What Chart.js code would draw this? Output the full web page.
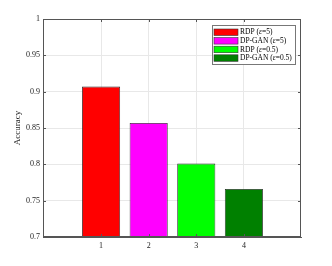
<!DOCTYPE html>
<html>
<head>
<meta charset="utf-8">
<script src="https://cdn.jsdelivr.net/npm/chart.js@4"></script>
<style>
  html, body { margin: 0; padding: 0; background: #fff; }
  #wrap { width: 332px; height: 266px; }
</style>
</head>
<body>
<div id="wrap"><canvas id="accChart"></canvas></div>
<script>
// Accuracy per method
const categories = [1, 2, 3, 4];
const accuracy = [0.907, 0.857, 0.801, 0.766];
const methodNames = ['RDP', 'DP-GAN', 'RDP', 'DP-GAN'];
const epsilons = ['5', '5', '0.5', '0.5'];
const barColors = ['#ff0000', '#ff00ff', '#00ff00', '#008000'];
const yTicks = [0.7, 0.75, 0.8, 0.85, 0.9, 0.95, 1];
const xTicks = [1, 2, 3, 4];

const serif = '"Liberation Serif", "DejaVu Serif", serif';
const axisColor = '#555';

// box around the axes, inward tick marks and the legend (MATLAB look)
const matlabFrame = {
    id: 'matlabFrame',
    afterDraw(chart) {
        const ctx = chart.ctx;
        const a = chart.chartArea;
        const xs = chart.scales.x, ys = chart.scales.y;
        ctx.save();
        ctx.strokeStyle = axisColor;
        ctx.lineWidth = 1;
        ctx.strokeRect(a.left + 0.5, a.top + 0.5, a.right - a.left - 1, a.bottom - a.top - 1);
        ctx.beginPath();
        yTicks.forEach(v => {
            const py = Math.round(ys.getPixelForValue(v)) + 0.5;
            ctx.moveTo(a.left, py); ctx.lineTo(a.left + 3, py);
            ctx.moveTo(a.right, py); ctx.lineTo(a.right - 3, py);
        });
        xTicks.forEach(v => {
            const px = Math.round(xs.getPixelForValue(v)) + 0.5;
            ctx.moveTo(px, a.bottom); ctx.lineTo(px, a.bottom - 3);
            ctx.moveTo(px, a.top); ctx.lineTo(px, a.top + 3);
        });
        ctx.stroke();

        // legend
        const lx = 212, ly = 25, lw = 83, lh = 39;
        ctx.fillStyle = '#fff';
        ctx.fillRect(lx, ly, lw, lh);
        ctx.strokeStyle = '#777';
        ctx.strokeRect(lx + 0.5, ly + 0.5, lw, lh);
        ctx.textBaseline = 'middle';
        methodNames.forEach((name, i) => {
            const cy = ly + 7 + i * 8.6;
            ctx.fillStyle = barColors[i];
            ctx.fillRect(lx + 2, cy - 3, 24, 6.5);
            ctx.strokeStyle = '#333';
            ctx.lineWidth = 0.6;
            ctx.strokeRect(lx + 2, cy - 3, 24, 6.5);
            let tx = lx + 28;
            ctx.fillStyle = '#000';
            const parts = [[name + ' (', 'normal'], ['\u03b5', 'italic'], ['=' + epsilons[i] + ')', 'normal']];
            parts.forEach(([txt, style]) => {
                ctx.font = style + ' 7.5px ' + serif;
                ctx.fillText(txt, tx, cy + 0.5);
                tx += ctx.measureText(txt).width;
            });
        });
        ctx.restore();
    }
};

const ctx = document.getElementById('accChart').getContext('2d');
const accChart = new Chart(ctx, {
    type: 'bar',
    data: {
        datasets: [{
            data: categories.map((c, i) => ({ x: c, y: accuracy[i] })),
            backgroundColor: barColors,
            borderColor: '#222',
            borderWidth: 0.8,
            barPercentage: 1,
            categoryPercentage: 0.8
        }]
    },
    options: {
        responsive: true,
        maintainAspectRatio: false,
        animation: false,
        layout: { padding: { left: 0, top: 19, right: 31, bottom: 0 } },
        plugins: {
            legend: { display: false },
            tooltip: { enabled: false }
        },
        scales: {
            x: {
                type: 'linear',
                min: -0.22,
                max: 5.2,
                offset: false,
                afterBuildTicks: scale => { scale.ticks = xTicks.map(v => ({ value: v })); },
                afterFit: scale => { scale.height = 29; },
                grid: { color: '#e8e8e8', drawTicks: false, offset: false },
                border: { color: axisColor },
                ticks: {
                    color: '#222',
                    padding: 4,
                    font: { family: serif, size: 8 },
                    callback: v => String(v)
                }
            },
            y: {
                min: 0.7,
                max: 1,
                afterBuildTicks: scale => { scale.ticks = yTicks.map(v => ({ value: v })); },
                afterFit: scale => { scale.width = 43; },
                grid: { color: '#e8e8e8', drawTicks: false },
                border: { color: axisColor },
                ticks: {
                    color: '#222',
                    padding: 3,
                    font: { family: serif, size: 8 },
                    callback: v => String(v)
                },
                title: {
                    display: true,
                    text: 'Accuracy',
                    color: '#222',
                    font: { family: serif, size: 9 },
                    padding: { top: 12, bottom: 0 }
                }
            }
        }
    },
    plugins: [matlabFrame]
});
</script>
</body>
</html>
